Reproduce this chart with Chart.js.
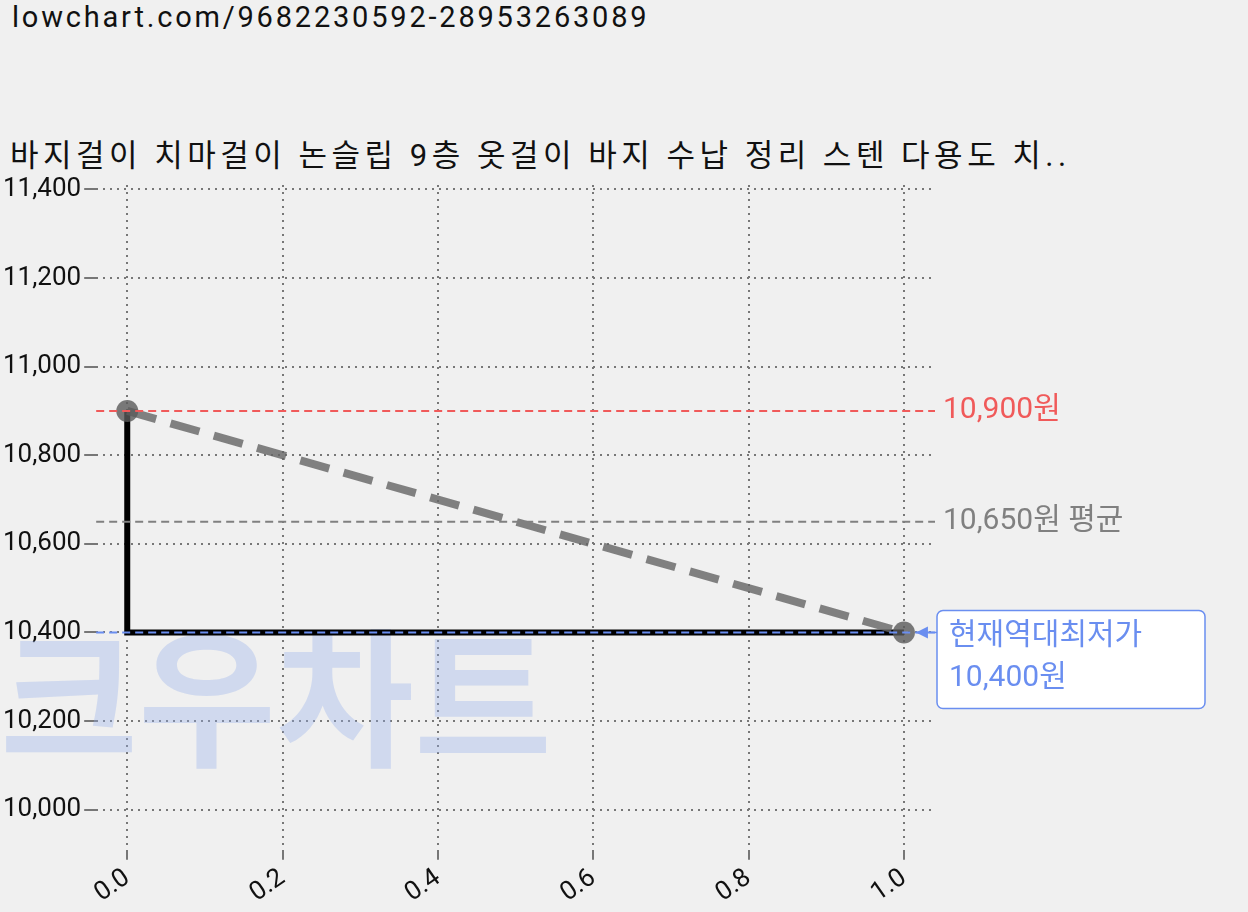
<!DOCTYPE html>
<html><head><meta charset="utf-8">
<script src="https://cdn.jsdelivr.net/npm/chart.js@4"></script>
<style>
body{margin:0;background:#f0f0f0;font-family:Roboto,"Noto Sans CJK KR",sans-serif}
#url{position:absolute;left:12px;top:0;font-size:29px;letter-spacing:2.8px;color:#111}
#title{position:absolute;left:10px;top:130px;font-size:31px;letter-spacing:4.5px;color:#111}
#wrap{position:absolute;left:0;top:160px;width:1248px;height:752px}
</style></head><body>
<div id="url">lowchart.com/9682230592-28953263089</div>
<div id="title">바지걸이 치마걸이 논슬립 9층 옷걸이 바지 수납 정리 스텐 다용도 치..</div>
<div id="wrap"><canvas id="c" width="1248" height="752"></canvas></div>
<script>
const xs = [0, 1];
const prices = [10900, 10400];
const stepX = [0, 0, 1];
const stepY = [10900, 10400, 10400];
const maxPrice = 10900, avgPrice = 10650, minPrice = 10400;
const yTicks = [10000, 10200, 10400, 10600, 10800, 11000, 11200, 11400];

const overlay = {
  id: 'overlay',
  beforeDatasetsDraw(chart) {
    const {ctx} = chart;
    ctx.save();
    ctx.font = 'bold 150px "Noto Sans CJK KR"';
    ctx.fillStyle = 'rgba(150,175,235,0.35)';
    ctx.textBaseline = 'alphabetic';
    ctx.fillText('크우차트', 0, 755 - 160);
    ctx.restore();
  },
  afterDatasetsDraw(chart) {
    const {ctx, scales: {x, y}} = chart;
    const lines = [[maxPrice, '#f05a5a'], [avgPrice, '#808080'], [minPrice, '#6a8ef0']];
    ctx.save();
    ctx.lineWidth = 2;
    ctx.setLineDash([8, 5]);
    lines.forEach(([v, c]) => {
      ctx.strokeStyle = c;
      ctx.beginPath();
      ctx.moveTo(x.getPixelForValue(-0.04), y.getPixelForValue(v));
      ctx.lineTo(x.getPixelForValue(1.04), y.getPixelForValue(v));
      ctx.stroke();
    });
    ctx.setLineDash([]);
    ctx.font = '30px Roboto, "Noto Sans CJK KR"';
    ctx.textBaseline = 'middle';
    const tx = x.getPixelForValue(1.04) + 8;
    ctx.fillStyle = '#f05a5a';
    ctx.fillText(maxPrice.toLocaleString() + '원', tx, y.getPixelForValue(maxPrice));
    ctx.fillStyle = '#808080';
    ctx.fillText(avgPrice.toLocaleString() + '원 평균', tx, y.getPixelForValue(avgPrice));
    const py = y.getPixelForValue(minPrice), px = x.getPixelForValue(1);
    const bx = 937, by = py - 22;
    ctx.fillStyle = '#fff';
    ctx.strokeStyle = '#6a8ef0';
    ctx.lineWidth = 1.5;
    ctx.beginPath();
    ctx.roundRect(bx, by, 268, 98, 6);
    ctx.fill(); ctx.stroke();
    ctx.fillStyle = '#6a8ef0';
    ctx.fillText('현재역대최저가', bx + 12, by + 26);
    ctx.fillText(minPrice.toLocaleString() + '원', bx + 12, by + 68);
    ctx.beginPath();
    ctx.moveTo(bx, py); ctx.lineTo(px + 12, py);
    ctx.stroke();
    ctx.beginPath();
    ctx.moveTo(px + 12, py); ctx.lineTo(px + 24, py - 6); ctx.lineTo(px + 24, py + 6);
    ctx.closePath(); ctx.fill();
    ctx.restore();
  }
};

new Chart(document.getElementById('c'), {
  type: 'scatter',
  data: {
    datasets: [
      {
        data: stepX.map((v, i) => ({x: v, y: stepY[i]})),
        showLine: true, borderColor: '#000', borderWidth: 6, pointRadius: 0, order: 2
      },
      {
        data: xs.map((v, i) => ({x: v, y: prices[i]})),
        showLine: true, borderColor: 'rgba(100,100,100,0.8)', borderWidth: 8, borderDash: [30, 15],
        pointRadius: 11, pointBackgroundColor: 'rgba(90,90,90,0.8)', pointBorderWidth: 0, order: 1
      }
    ]
  },
  options: {
    responsive: false, animation: false,
    layout: {padding: {left: 0, right: 313, top: 25, bottom: 0}},
    plugins: {legend: {display: false}, tooltip: {enabled: false}},
    scales: {
      x: {
        min: -0.04, max: 1.04,
        afterBuildTicks: s => { s.ticks = [0, 0.2, 0.4, 0.6, 0.8, 1].map(v => ({value: v})); },
        ticks: {maxRotation: 35, minRotation: 35, color: '#111', font: {size: 26, family: 'Roboto'},
          callback: v => v.toFixed(1)},
        grid: {color: '#777', lineWidth: 2, tickLength: 8, drawTicks: true},
        border: {display: false, dash: [2, 5]}
      },
      y: {
        min: 9905, max: 11410,
        afterBuildTicks: s => { s.ticks = yTicks.map(v => ({value: v})); },
        ticks: {color: '#111', font: {size: 26, family: 'Roboto'}, callback: v => v.toLocaleString()},
        grid: {color: '#777', lineWidth: 2, tickLength: 12},
        border: {display: false, dash: [2, 5]}
      }
    }
  },
  plugins: [overlay]
});
</script>
</body></html>
